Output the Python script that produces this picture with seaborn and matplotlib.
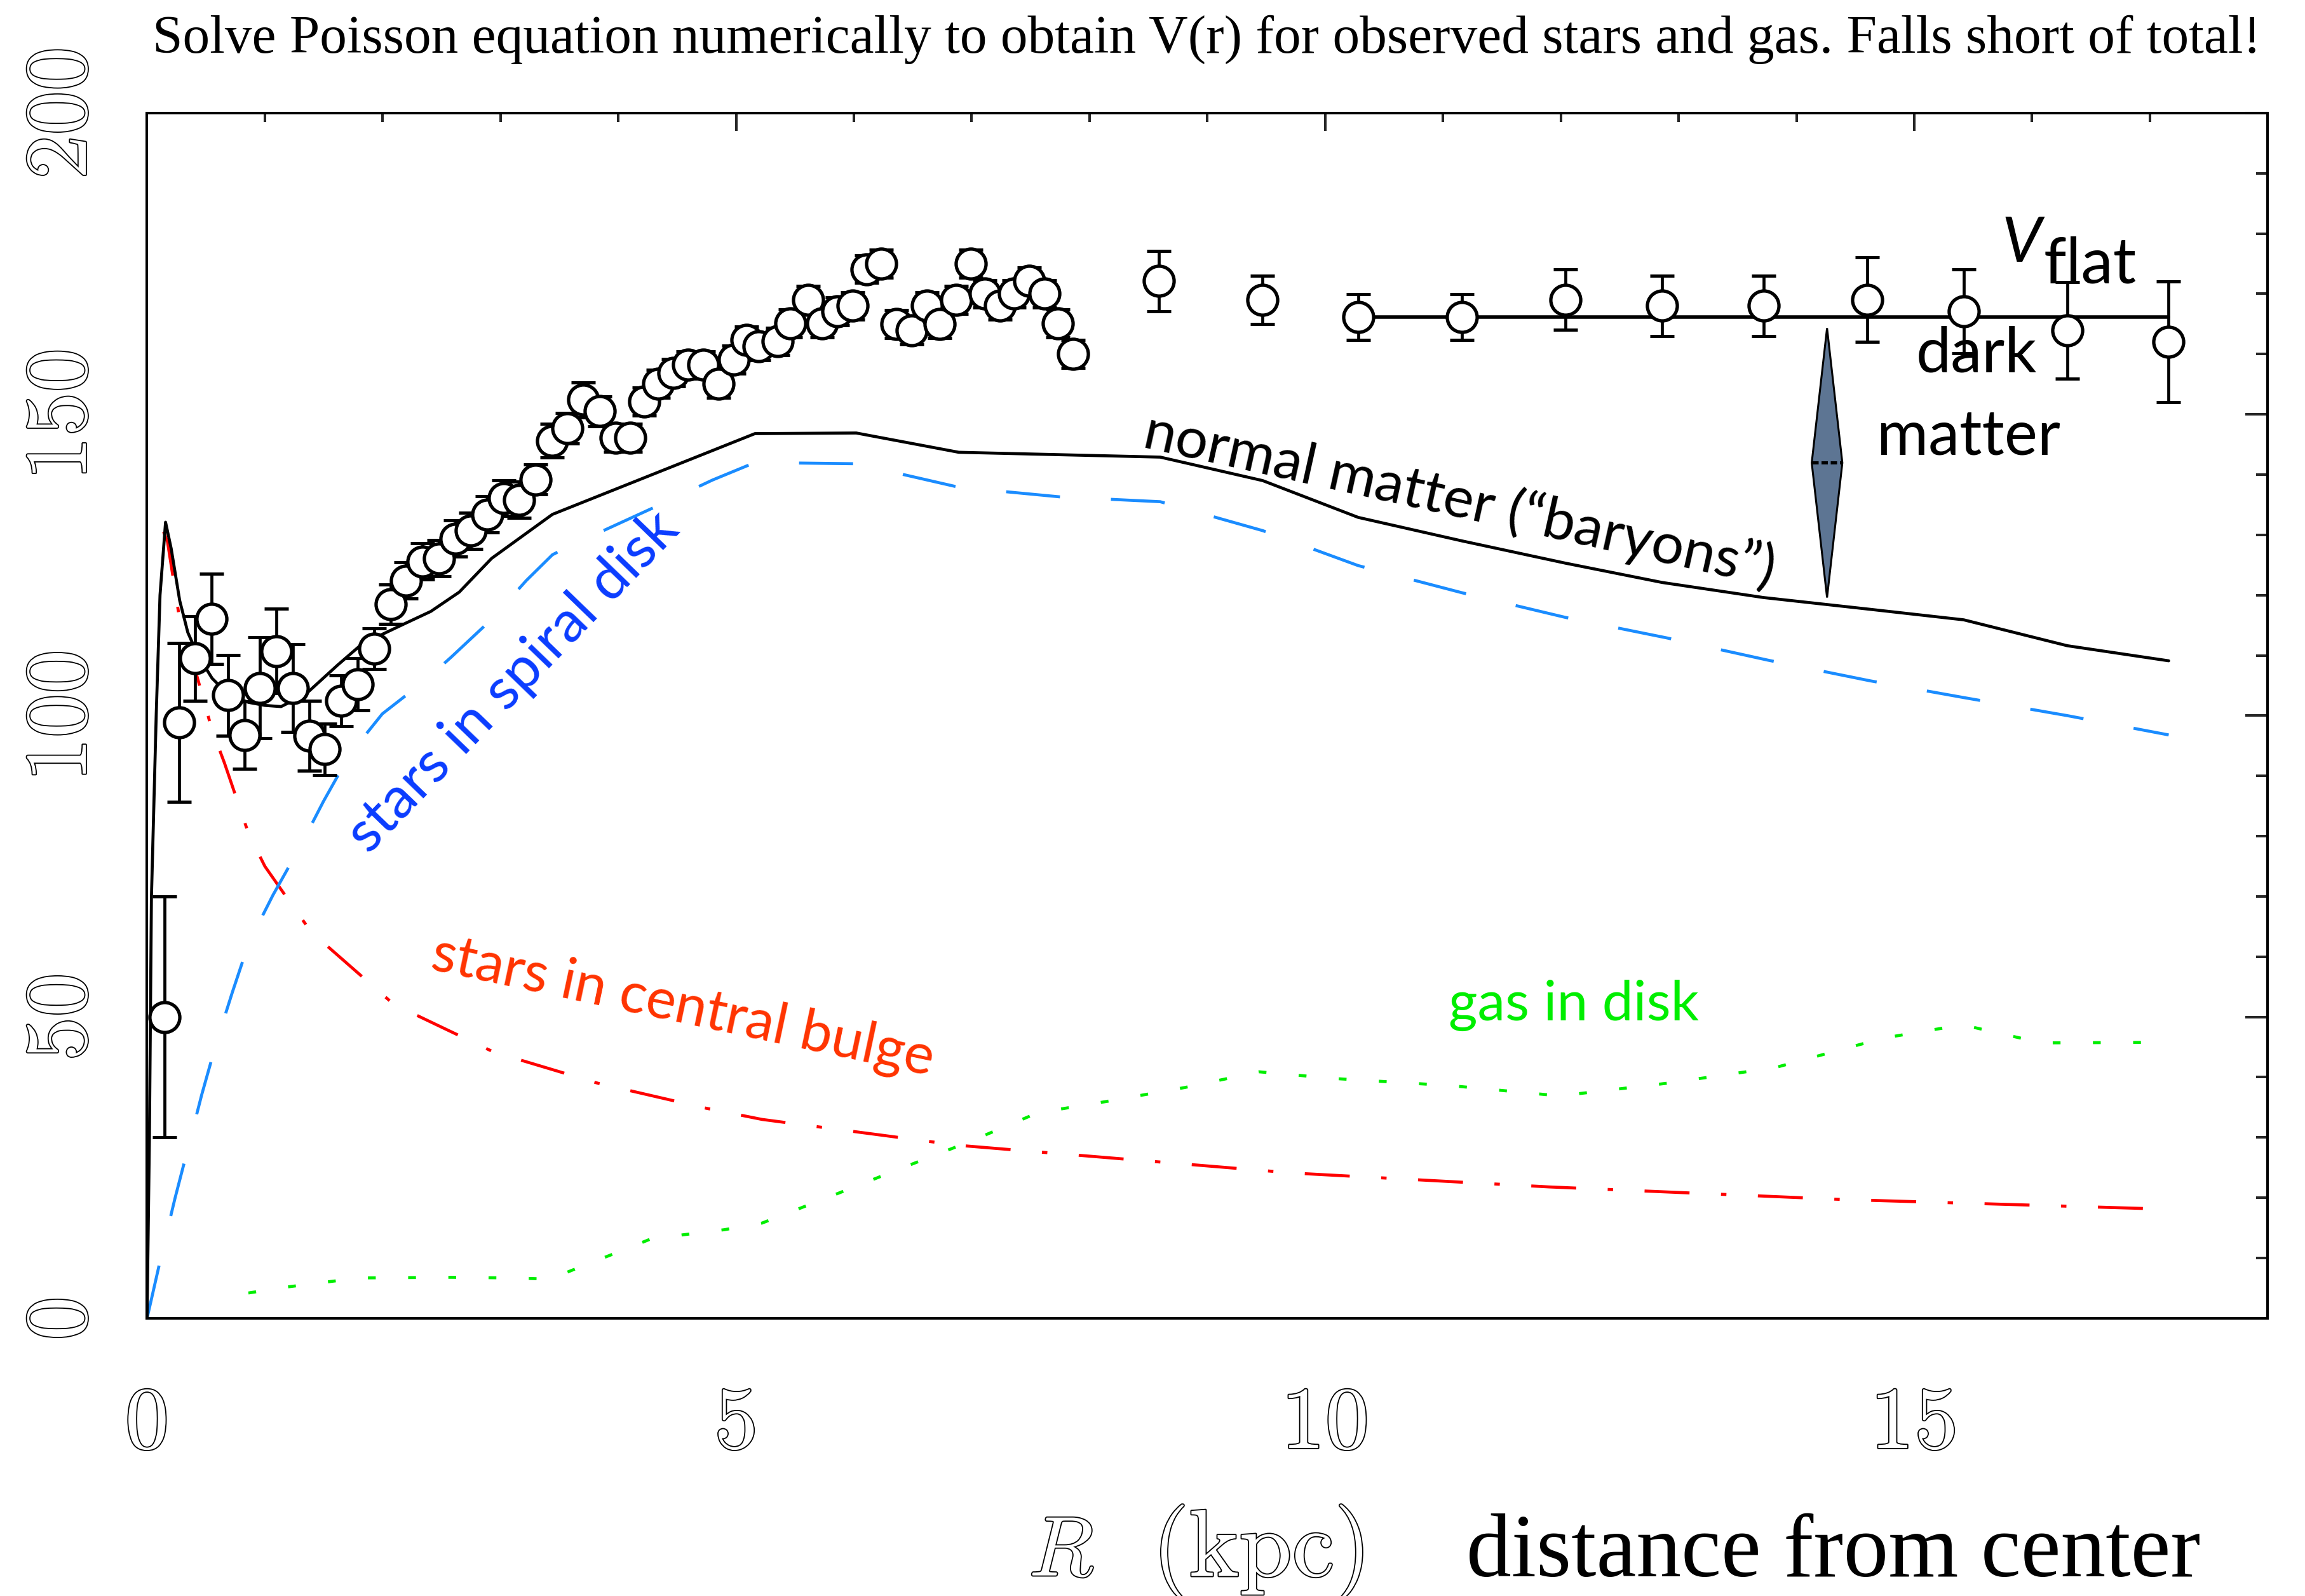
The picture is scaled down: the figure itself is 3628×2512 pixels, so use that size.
import matplotlib
matplotlib.use("Agg")
import matplotlib.pyplot as plt
import matplotlib.patheffects as pe
from matplotlib.patches import Polygon
from matplotlib.ticker import MultipleLocator
import seaborn as sns

# ---------------- observed rotation curve (kpc, km/s) ----------------
r_obs = [0.15, 0.27, 0.41, 0.55, 0.69, 0.83, 0.96, 1.10, 1.24, 1.38,
         1.51, 1.65, 1.79, 1.93, 2.07, 2.20, 2.34, 2.48, 2.62, 2.75,
         2.89, 3.03, 3.16, 3.30, 3.44, 3.57, 3.70, 3.84, 3.98, 4.10,
         4.22, 4.34, 4.47, 4.59, 4.72, 4.85, 4.98, 5.09, 5.19, 5.35,
         5.46, 5.61, 5.73, 5.86, 5.99, 6.11, 6.23, 6.36, 6.49, 6.62,
         6.73, 6.87, 6.99, 7.11, 7.24, 7.36, 7.49, 7.62, 7.73, 7.86,
         8.59, 9.47, 10.28, 11.16, 12.04, 12.86, 13.72, 14.60, 15.42, 16.30,
         17.16]
v_obs = [50.0, 98.9, 109.5, 116.1, 103.4, 96.8, 104.6, 110.7, 104.6, 96.7,
         94.4, 102.5, 105.2, 111.1, 118.5, 122.4, 125.6, 126.1, 129.4, 130.7,
         133.4, 136.1, 135.8, 139.2, 145.6, 147.7, 152.4, 150.5, 146.1, 146.1,
         152.1, 155.1, 156.9, 158.2, 158.2, 155.1, 159.1, 162.3, 161.3, 162.1,
         165.1, 169.0, 165.1, 167.1, 168.0, 174.1, 175.0, 165.0, 163.9, 168.0,
         165.0, 169.0, 175.0, 170.0, 168.0, 170.0, 172.1, 170.0, 165.1, 160.0,
         172.1, 169.0, 166.1, 166.1, 169.0, 168.0, 168.0, 169.0, 167.1, 163.9,
         162.0]
v_err = [20.0, 13.2, 7.0, 7.5, 6.7, 5.6, 8.4, 7.0, 7.3, 5.8,
         4.3, 4.2, 4.3, 3.4, 3.3, 3.0, 3.0, 3.0, 3.0, 3.0,
         3.0, 3.0, 3.0, 2.5, 2.8, 2.5, 2.9, 2.5, 2.3, 2.3,
         2.3, 2.3, 2.3, 2.3, 2.3, 2.3, 2.3, 2.3, 2.3, 2.3,
         2.3, 2.3, 2.3, 2.3, 2.3, 2.3, 2.3, 2.3, 2.3, 2.3,
         2.3, 2.3, 2.3, 2.3, 2.3, 2.3, 2.3, 2.3, 2.3, 2.3,
         5.0, 4.0, 3.8, 3.8, 5.0, 5.0, 5.0, 7.0, 7.0, 8.0,
         10.0]

# ---------------- mass-model components ----------------
r_disk = [0.0, 0.134, 0.237, 0.351, 0.464, 0.588, 0.724, 0.864, 1.068, 1.292,
          1.498, 1.722, 1.997, 2.358, 2.581, 2.92, 3.218, 3.441, 3.562, 3.974,
          4.387, 4.80, 5.16, 6.02, 6.89, 7.75, 8.60, 9.47, 10.28, 11.16,
          12.04, 12.90, 13.76, 14.62, 15.42, 16.30, 17.16]
v_disk = [0.0, 11.5, 19.9, 28.5, 37.1, 45.7, 54.1, 62.3, 70.2, 78.0,
          85.8, 93.6, 100.3, 105.8, 109.7, 115.9, 122.4, 126.7, 127.9, 131.6,
          135.3, 139.1, 142.0, 141.8, 137.9, 136.3, 135.5, 130.7, 124.9, 120.4,
          116.3, 112.9, 109.2, 105.8, 103.0, 100.0, 96.8]

r_bulge = [0.14, 0.174, 0.277, 0.381, 0.552, 0.656, 0.862, 1.0, 1.172, 1.393,
           2.094, 2.94, 3.828, 4.735, 5.22, 6.89, 9.73, 11.9, 14.41, 17.16]
v_bulge = [130.5, 128.8, 115.9, 109.5, 97.6, 92.2, 80.4, 75.0, 70.2, 64.1,
           52.1, 44.2, 39.0, 34.9, 33.0, 28.7, 24.1, 21.8, 19.7, 18.1]

r_gas = [0.86, 1.19, 1.80, 2.58, 3.09, 3.42, 3.70, 4.00, 4.28, 4.90,
         5.22, 5.81, 6.39, 6.98, 7.56, 8.15, 8.81, 9.44, 10.07, 11.07,
         11.99, 12.90, 13.82, 14.74, 15.41, 16.08, 17.16]
v_gas = [4.2, 5.2, 6.7, 6.8, 6.7, 6.5, 8.7, 11.0, 13.2, 14.7,
         15.8, 20.3, 24.8, 29.3, 34.1, 36.0, 38.3, 40.9, 39.8, 38.6,
         36.9, 39.0, 41.6, 46.5, 48.7, 45.7, 45.8]

r_baryon = [0.0, 0.02, 0.037, 0.078, 0.11, 0.157, 0.205, 0.277, 0.346, 0.432,
            0.552, 0.69, 0.862, 1.0, 1.137, 1.343, 1.618, 1.825, 2.169, 2.409,
            2.65, 2.925, 3.441, 5.16, 6.02, 6.89, 8.60, 9.47, 10.28, 11.16,
            12.04, 12.86, 13.72, 14.60, 15.42, 16.30, 17.16]
v_baryon = [0.0, 30.0, 69.7, 100.3, 120.0, 132.1, 127.7, 119.1, 113.8, 110.0,
            106.2, 103.5, 102.2, 101.7, 101.5, 103.5, 108.4, 111.9, 115.1, 117.3,
            120.5, 126.1, 133.4, 146.8, 146.9, 143.7, 142.9, 139.0, 132.9, 129.0,
            125.3, 122.1, 119.6, 117.7, 115.9, 111.6, 109.1]

# flat part of the curve and the dark-matter gap marker
r_flat = [10.28, 17.16]
v_flat = 166.1
dm_r = 14.26
dm_low = 119.6
dm_high = 164.3
dm_halfwidth = 0.13

x_ticks = [0, 5, 10, 15]
y_ticks = [0, 50, 100, 150, 200]

# ---------------- style ----------------
sns.set_theme(style="white")
plt.rcParams.update({
    "font.family": ["Lato", "DejaVu Sans"],
    "mathtext.fontset": "cm",
    "axes.linewidth": 2.9,
    "axes.edgecolor": "black",
    "xtick.direction": "in",
    "ytick.direction": "in",
    "xtick.top": True,
    "ytick.right": True,
})

fig = plt.figure(figsize=(36.28, 25.12), dpi=100)
ax = fig.add_axes([0.0638, 0.1740, 0.9200, 0.7552])

lw = 3.4
sns.lineplot(x=r_gas, y=v_gas, ax=ax, color="#00ee00", lw=lw,
             linestyle=(0, (2.6, 10.8)), sort=False, estimator=None, zorder=2)
sns.lineplot(x=r_bulge, y=v_bulge, ax=ax, color="#ff0000", lw=lw,
             linestyle=(0, (15, 10.5, 1.8, 10.5)), sort=False, estimator=None,
             zorder=2)
sns.lineplot(x=r_disk, y=v_disk, ax=ax, color="#1a8cff", lw=lw,
             linestyle=(0, (18, 17)), sort=False, estimator=None, zorder=2)
sns.lineplot(x=r_baryon, y=v_baryon, ax=ax, color="black", lw=lw,
             sort=False, estimator=None, zorder=2.2)

# flat rotation velocity
sns.lineplot(x=r_flat, y=[v_flat] * len(r_flat), ax=ax, color="black", lw=4.0,
             sort=False, estimator=None, zorder=2.5)

# observed points
ax.errorbar(r_obs, v_obs, yerr=v_err, fmt="none", ecolor="black",
            elinewidth=3.4, capsize=14, capthick=3.6, zorder=3)
sns.scatterplot(x=r_obs, y=v_obs, ax=ax, s=1150, color="white",
                edgecolor="black", linewidth=3.8, marker="o", zorder=4)

# dark-matter gap marker
dm_mid = 0.5 * (dm_low + dm_high)
ax.add_patch(Polygon([(dm_r, dm_low), (dm_r + dm_halfwidth, dm_mid),
                      (dm_r, dm_high), (dm_r - dm_halfwidth, dm_mid)],
                     closed=True, facecolor="#5d7593", edgecolor="black",
                     lw=2.2, zorder=3))
ax.plot([dm_r - dm_halfwidth, dm_r + dm_halfwidth], [dm_mid, dm_mid],
        color="black", lw=3.6, linestyle=(0, (2.0, 0.9)), zorder=3.1)

# ---------------- annotations ----------------
ax.text(3.11, 105.6, "stars in spiral disk", rotation=46, color="#0a3cff",
        fontsize=66, ha="center", va="center", rotation_mode="anchor")
ax.text(4.55, 51.6, "stars in central bulge", rotation=-12, color="#ff3300",
        fontsize=64, ha="center", va="center", rotation_mode="anchor")
ax.text(12.11, 51.9, "gas in disk", color="#00ee00", fontsize=63,
        ha="center", va="center")
ax.text(11.14, 135.8, "normal matter (\u201cbaryons\u201d)", rotation=-12.5,
        color="black", fontsize=65, ha="center", va="center",
        rotation_mode="anchor")
ax.text(15.53, 157.0, "dark", color="black", fontsize=71, ha="center",
        va="baseline")
ax.text(15.46, 143.3, "matter", color="black", fontsize=71, ha="center",
        va="baseline")
ax.text(15.74, 175.3, "V", color="black", fontsize=72, style="italic",
        ha="left", va="baseline")
ax.text(16.10, 171.8, "flat", color="black", fontsize=73, ha="left",
        va="baseline")

# ---------------- axes ----------------
ax.set_xlim(0, 18)
ax.set_ylim(0, 200)
ax.xaxis.set_minor_locator(MultipleLocator(1))
ax.yaxis.set_minor_locator(MultipleLocator(10))
ax.set_xticks(x_ticks)
ax.set_yticks(y_ticks)

outline = [pe.withStroke(linewidth=2.6, foreground="black")]
ax.set_xticklabels([str(t) for t in x_ticks], fontfamily="cmr10",
                   fontsize=100, color="white", path_effects=outline)
ax.set_yticklabels([str(t) for t in y_ticks], fontfamily="cmr10",
                   fontsize=100, color="white", path_effects=outline,
                   rotation=90, va="center")
ax.tick_params(axis="x", which="major", length=20, width=2.9, pad=78)
ax.tick_params(axis="x", which="minor", length=10, width=2.9)
ax.tick_params(axis="y", which="major", length=25, width=2.9, pad=50)
ax.tick_params(axis="y", which="minor", length=13, width=2.9)
ax.set_xlabel("")
ax.set_ylabel("")

# axis caption: symbol, unit, and plain-language description
fig.text(0.4605, 0.0125, r"$R$", fontsize=96, color="white",
         path_effects=outline, ha="center", va="baseline")
fig.text(0.5474, 0.0125, "(kpc)", fontsize=108, fontfamily="cmr10",
         color="white", path_effects=outline, ha="center", va="baseline")
fig.text(0.7955, 0.0125, "distance from center", fontsize=102,
         family=["Liberation Serif"], color="black", ha="center",
         va="baseline")

fig.text(0.5237, 0.967, "Solve Poisson equation numerically to obtain V(r) "
         "for observed stars and gas. Falls short of total!", fontsize=61.5,
         family=["Liberation Serif"], color="black", ha="center",
         va="baseline")

fig.savefig("out.png", dpi=100, facecolor="white")
